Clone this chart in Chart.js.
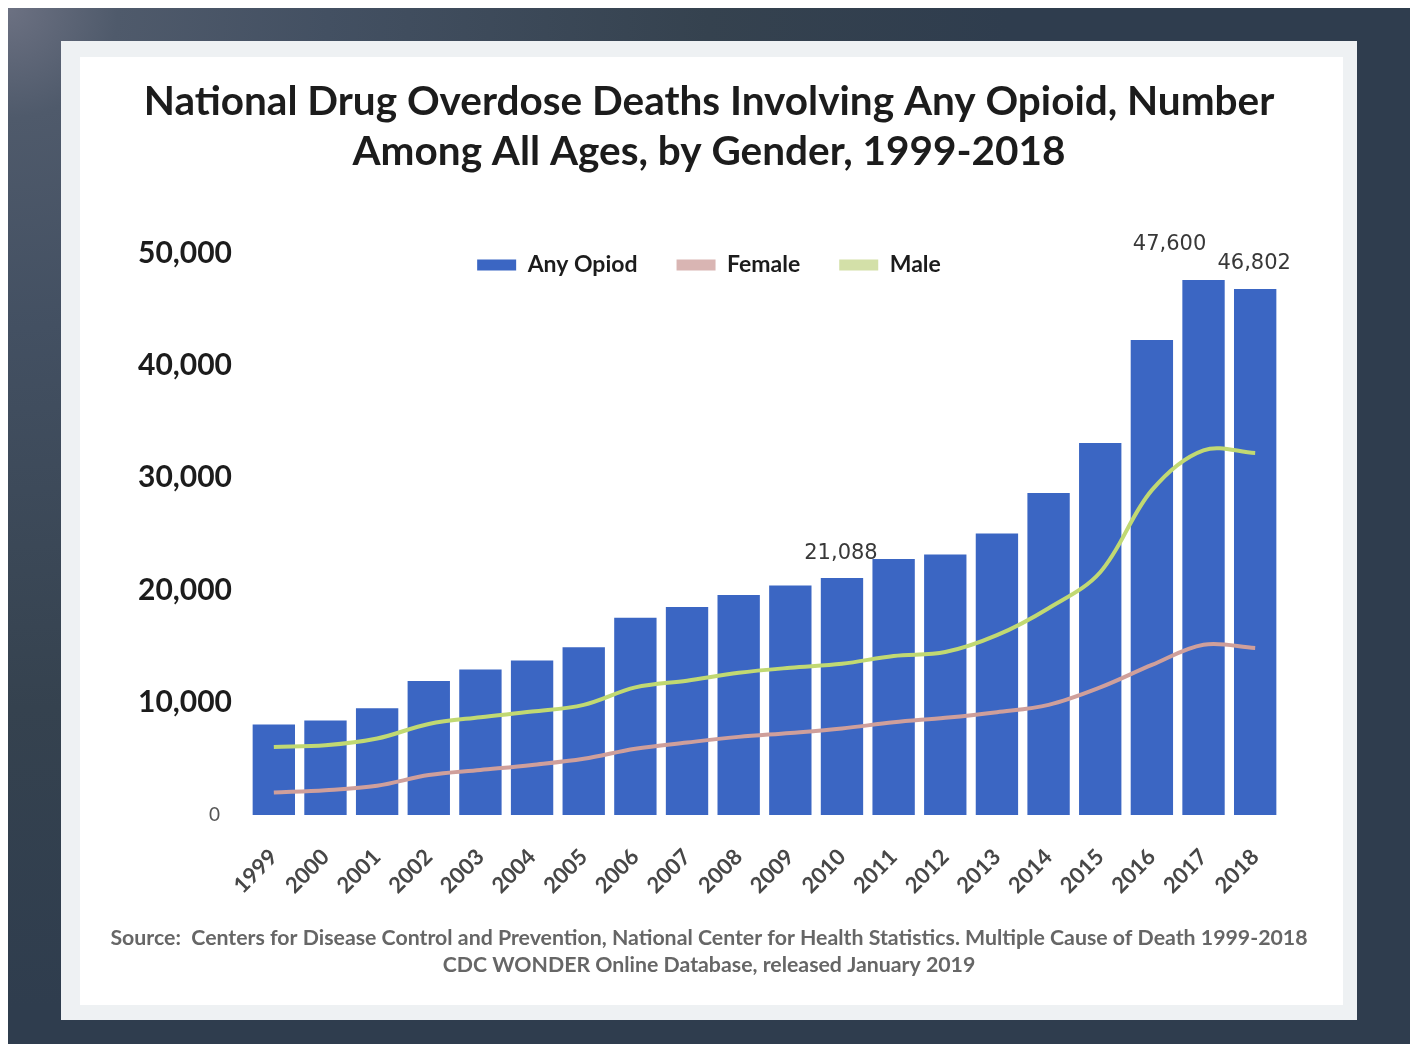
<!DOCTYPE html>
<html>
<head>
<meta charset="utf-8">
<script src="https://cdn.jsdelivr.net/npm/chart.js@4.4.1/dist/chart.umd.min.js"></script>
<style>
  html, body { margin: 0; padding: 0; background: #ffffff; }
  body { width: 1416px; height: 1044px; position: relative; overflow: hidden; }
  #frame {
    position: absolute; left: 8px; top: 8px; width: 1402px; height: 1036px;
    background: radial-gradient(circle at 0 0, #6c7182 0px, #4f5a6b 110px, #435062 320px, #35424f 700px, #2f3d4e 1000px);
  }
  #panel {
    position: absolute; left: 61px; top: 41px; width: 1296px; height: 979px;
    background: #eef1f3;
  }
  #inner {
    position: absolute; left: 19px; top: 16px; right: 14px; bottom: 15px;
    background: #ffffff;
  }
  #chart { position: absolute; left: 0; top: 0; }
</style>
</head>
<body>
<div id="frame"></div>
<div id="panel">
  <div id="inner"></div>
  <canvas id="chart" width="1296" height="979"></canvas>
</div>
<script>
// Opioid overdose deaths in the US, 1999-2018
const years = ['1999','2000','2001','2002','2003','2004','2005','2006','2007','2008',
               '2009','2010','2011','2012','2013','2014','2015','2016','2017','2018'];
const anyOpioid = [8050, 8407, 9496, 11920, 12940, 13756, 14918, 17545, 18516, 19582,
                   20422, 21088, 22784, 23166, 25052, 28647, 33091, 42249, 47600, 46802];
const female = [2000, 2200, 2600, 3550, 4000, 4450, 5000, 5900, 6450, 6950,
                7300, 7700, 8250, 8650, 9150, 9800, 11350, 13350, 15150, 14850];
const male = [6050, 6200, 6800, 8100, 8700, 9200, 9800, 11350, 11950, 12650,
              13100, 13450, 14150, 14500, 16000, 18400, 21600, 28900, 32450, 32200];
const yTicks = [0, 10000, 20000, 30000, 40000, 50000];
const labeledYears = ['2010', '2017', '2018'];

const titleLines = ['National Drug Overdose Deaths Involving Any Opioid, Number',
                    'Among All Ages, by Gender, 1999-2018'];
const sourceLines = ['Source:  Centers for Disease Control and Prevention, National Center for Health Statistics. Multiple Cause of Death 1999-2018',
                     'CDC WONDER Online Database, released January 2019'];

const FONT = 'Lato, "Open Sans", "DejaVu Sans", sans-serif';
const LEGEND_GAP = 39;

// Centre title, source line and legend across the whole panel;
// the legend then sits inside the top band of the plot area
const blockPlacement = {
  id: 'blockPlacement',
  afterLayout(chart) {
    chart.boxes.forEach(b => {
      if (b instanceof Chart.Scale) return;
      b.left = 0;
      b.right = chart.width;
      b.width = chart.width;
    });
    const lg = chart.legend;
    if (lg) {
      const h = lg.height;
      lg.top = chart.chartArea.top + 0.5 - LEGEND_GAP;
      lg.bottom = lg.top + h;
    }
  }
};

// Value annotations above selected bars
const barValueLabels = {
  id: 'barValueLabels',
  afterDatasetsDraw(chart) {
    const meta = chart.getDatasetMeta(0);
    const shift = { '2010': [-1, -24], '2017': [-34, -35], '2018': [-1, -25] };
    const ctx = chart.ctx;
    ctx.save();
    ctx.font = '21px "DejaVu Sans", sans-serif';
    ctx.fillStyle = '#383838';
    ctx.textAlign = 'center';
    ctx.textBaseline = 'middle';
    ctx.filter = 'blur(0.5px)';
    labeledYears.forEach(y => {
      const i = years.indexOf(y);
      const bar = meta.data[i];
      const [dx, dy] = shift[y];
      ctx.fillText(anyOpioid[i].toLocaleString('en-US'), bar.x + dx, bar.y + dy);
    });
    ctx.restore();
  }
};

new Chart(document.getElementById('chart'), {
  type: 'bar',
  data: {
    labels: years,
    datasets: [
      {
        type: 'bar',
        label: 'Any Opiod',
        data: anyOpioid,
        backgroundColor: '#3b66c3',
        borderWidth: 0,
        categoryPercentage: 1,
        barPercentage: 0.82,
        order: 1
      },
      {
        type: 'line',
        label: 'Female',
        data: female,
        borderColor: '#cf9f9b',
        backgroundColor: '#d9b5b3',
        borderWidth: 4,
        pointRadius: 0,
        tension: 0.35,
        fill: false,
        order: 0
      },
      {
        type: 'line',
        label: 'Male',
        data: male,
        borderColor: '#c1d972',
        backgroundColor: '#d3e0a8',
        borderWidth: 4,
        pointRadius: 0,
        tension: 0.35,
        fill: false,
        order: 0
      }
    ]
  },
  options: {
    responsive: false,
    animation: false,
    layout: { padding: { left: 0, right: 76, top: 0, bottom: 0 } },
    plugins: {
      title: {
        display: true,
        text: titleLines,
        color: '#1c1c1c',
        font: { family: FONT, size: 40.5, weight: 'bold', lineHeight: 50 / 40.5 },
        padding: { top: 36, bottom: 43 - LEGEND_GAP }
      },
      subtitle: {
        display: true,
        position: 'bottom',
        text: sourceLines,
        color: '#666666',
        font: { family: FONT, size: 21.3, weight: 'bold', lineHeight: 27 / 21.3 },
        padding: { top: 0, bottom: 41.5 }
      },
      legend: {
        position: 'top',
        align: 'center',
        labels: {
          boxWidth: 39,
          boxHeight: 11,
          padding: LEGEND_GAP,
          color: '#1c1c1c',
          font: { family: FONT, size: 23, weight: 'bold' },
          sort: (a, b) => a.datasetIndex - b.datasetIndex,
          generateLabels(chart) {
            const items = Chart.defaults.plugins.legend.labels.generateLabels(chart);
            items.forEach(it => {
              it.fillStyle = chart.data.datasets[it.datasetIndex].backgroundColor;
              it.lineWidth = 0;
              it.strokeStyle = 'rgba(0,0,0,0)';
            });
            return items;
          }
        }
      },
      tooltip: { enabled: false }
    },
    scales: {
      x: {
        offset: true,
        grid: { display: false, drawTicks: false },
        border: { display: false },
        ticks: {
          minRotation: 45,
          maxRotation: 45,
          autoSkip: false,
          padding: 29,
          color: '#474747',
          font: { family: FONT, size: 22, weight: 'bold' }
        },
        afterFit(scale) { scale.height = 109.5; }
      },
      y: {
        min: 0,
        max: 50000,
        grid: { display: false, drawTicks: false },
        border: { display: false },
        afterBuildTicks(scale) { scale.ticks = yTicks.map(v => ({ value: v })); },
        ticks: {
          padding: 16,
          callback: v => v === 0 ? '0\u2002\u2009' : v.toLocaleString('en-US'),
          color: ctx => (ctx.tick && ctx.tick.value === 0) ? '#555555' : '#1c1c1c',
          font: ctx => (ctx.tick && ctx.tick.value === 0)
            ? { family: FONT, size: 19, weight: 'normal' }
            : { family: FONT, size: 30, weight: 'bold' }
        },
        afterFit(scale) { scale.width = 187; }
      }
    }
  },
  plugins: [blockPlacement, barValueLabels]
});
</script>
</body>
</html>
